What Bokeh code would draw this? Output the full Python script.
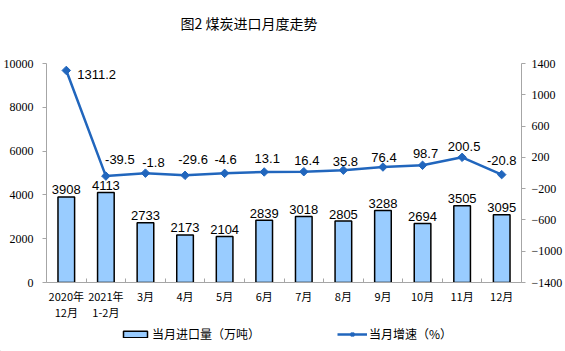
import math
from bokeh.plotting import figure
from bokeh.layouts import column
from bokeh.models import (Range1d, LinearAxis, FixedTicker, ColumnDataSource,
                          Legend, LegendItem)
from bokeh.core.properties import value
from bokeh.embed import file_html
from bokeh.resources import INLINE

# ---- data ----
categories = ["2020年\n12月", "2021年\n1-2月", "3月", "4月", "5月", "6月",
              "7月", "8月", "9月", "10月", "11月", "12月"]
imports = [3908, 4113, 2733, 2173, 2104, 2839, 3018, 2805, 3288, 2694, 3505, 3095]
growth = [1311.2, -39.5, -1.8, -29.6, -4.6, 13.1, 16.4, 35.8, 76.4, 98.7, 200.5, -20.8]
left_ticks = [0, 2000, 4000, 6000, 8000, 10000]
right_ticks = [-1400, -1000, -600, -200, 200, 600, 1000, 1400]
title_text = "图2 煤炭进口月度走势"
series_names = ["当月进口量（万吨）", "当月增速（%）"]

BAR_FILL = "#99CCFF"
LINE_COL = "#2166BD"
AXIS_COL = "#A6A6A6"
CJK = "Noto Sans CJK SC"
W = 565

# ---------------- header (title) ----------------
head = figure(width=W, height=40, output_backend="svg", toolbar_location=None,
              x_range=Range1d(0, W), y_range=Range1d(0, 40),
              x_axis_type=None, y_axis_type=None, min_border=0,
              frame_align=False)
head.outline_line_color = None
head.grid.visible = False
head.text(x=[180], y=[18], text=[title_text], text_font=value(CJK),
          text_font_size="14px", text_color="black",
          text_align="left", text_baseline="middle")

# ---------------- main chart ----------------
xs = list(range(len(categories)))
src = ColumnDataSource(dict(
    x=xs, imports=imports, growth=growth,
    imp_lbl=[str(v) for v in imports],
    gr_lbl=[f"{v:.1f}" for v in growth],
))

p = figure(width=W, height=283, output_backend="svg", toolbar_location=None,
           x_range=Range1d(-0.5, len(categories) - 0.5),
           y_range=Range1d(0, 10000),
           min_border_left=46, min_border_right=43,
           min_border_top=23, min_border_bottom=39, frame_align=False)
p.extra_y_ranges = {"rate": Range1d(-1400, 1400)}
p.outline_line_color = None
p.xgrid.visible = False
p.ygrid.visible = False

# x axis
xa = p.xaxis[0]
xa.ticker = FixedTicker(ticks=xs, minor_ticks=[i - 0.5 for i in range(len(categories) + 1)])
xa.major_label_overrides = {i: c for i, c in enumerate(categories)}
xa.major_tick_line_color = None
xa.major_tick_in = 0
xa.major_tick_out = 0
xa.minor_tick_in = 4
xa.minor_tick_out = 0
xa.minor_tick_line_color = AXIS_COL
xa.axis_line_color = AXIS_COL
xa.major_label_text_font = CJK
xa.major_label_text_font_size = "11px"
xa.major_label_text_color = "black"
xa.major_label_text_line_height = 1.05
xa.major_label_standoff = 5

# left axis
ya = p.yaxis[0]
ya.ticker = FixedTicker(ticks=left_ticks)
ya.minor_tick_line_color = None
ya.major_tick_in = 0
ya.major_tick_out = 4
ya.major_tick_line_color = AXIS_COL
ya.axis_line_color = AXIS_COL
ya.major_label_text_font = "Liberation Serif"
ya.major_label_text_font_size = "12px"
ya.major_label_text_color = "black"
ya.major_label_standoff = 9

# right axis
ra = LinearAxis(y_range_name="rate", ticker=FixedTicker(ticks=right_ticks))
ra.minor_tick_line_color = None
ra.major_tick_in = 0
ra.major_tick_out = 4
ra.major_tick_line_color = AXIS_COL
ra.axis_line_color = AXIS_COL
ra.major_label_text_font = "Liberation Serif"
ra.major_label_text_font_size = "12px"
ra.major_label_text_color = "black"
ra.major_label_standoff = 6
p.add_layout(ra, "right")

# bars
p.vbar(x="x", top="imports", width=0.42, source=src,
       fill_color=BAR_FILL, line_color="black", line_width=1.5)
p.text(x="x", y="imports", text="imp_lbl", source=src,
       text_align="center", text_baseline="middle", y_offset=-7,
       text_font=value("Liberation Sans"), text_font_size="13px", text_color="black")

# line
p.line(x="x", y="growth", source=src, y_range_name="rate",
       line_color=LINE_COL, line_width=2.5)
p.scatter(x="x", y="growth", source=src, y_range_name="rate",
          marker="square", angle=math.pi / 4, size=6,
          fill_color=LINE_COL, line_color=LINE_COL)

# growth labels: first to the right of its point, others above
lab_dx = [11, 14, 8, 8, 1, 3, 3, 2, 1, 3, 2, 0]
lab_dy = [4, -17, -11, -16, -14, -13, -11, -9, -10, -12, -11, -14]
lab_align = ["left"] + ["center"] * (len(growth) - 1)
src.data["dx"] = lab_dx
src.data["dy"] = lab_dy
src.data["al"] = lab_align
p.text(x="x", y="growth", text="gr_lbl", source=src, y_range_name="rate",
       x_offset="dx", y_offset="dy", text_align="al", text_baseline="middle",
       text_font=value("Liberation Sans"), text_font_size="13px", text_color="black")

# ---------------- legend strip ----------------
lg = figure(width=W, height=28, output_backend="svg", toolbar_location=None,
            x_range=Range1d(0, 1), y_range=Range1d(0, 1),
            x_axis_type=None, y_axis_type=None, min_border=0,
            frame_align=False)
lg.outline_line_color = None
lg.grid.visible = False
# legend-only renderers with degenerate (invisible) geometry
r_bar = lg.vbar(x=[-10], top=[-5], bottom=[-5], width=0,
                fill_color=BAR_FILL, line_color="black", line_width=1.5)
r_line = lg.line(x=[-10, -10], y=[-5, -5], line_color=LINE_COL, line_width=2.5)
r_pts = lg.scatter(x=[-10], y=[-5], marker="square", angle=math.pi / 4, size=6,
                   fill_color=LINE_COL, line_color=LINE_COL)
leg = Legend(items=[LegendItem(label=series_names[0], renderers=[r_bar]),
                    LegendItem(label=series_names[1], renderers=[r_line, r_pts])],
             location=(120, 9), orientation="horizontal",
             glyph_width=30, glyph_height=8, label_standoff=2, spacing=77,
             label_height=12, label_width=10, padding=0, margin=0,
             border_line_color=None, background_fill_alpha=0,
             label_text_font=CJK, label_text_font_size="12px", label_text_color="black")
lg.add_layout(leg, "center")

layout = column(head, p, lg, spacing=0)
open("out.html", "w").write(file_html(layout, INLINE))
